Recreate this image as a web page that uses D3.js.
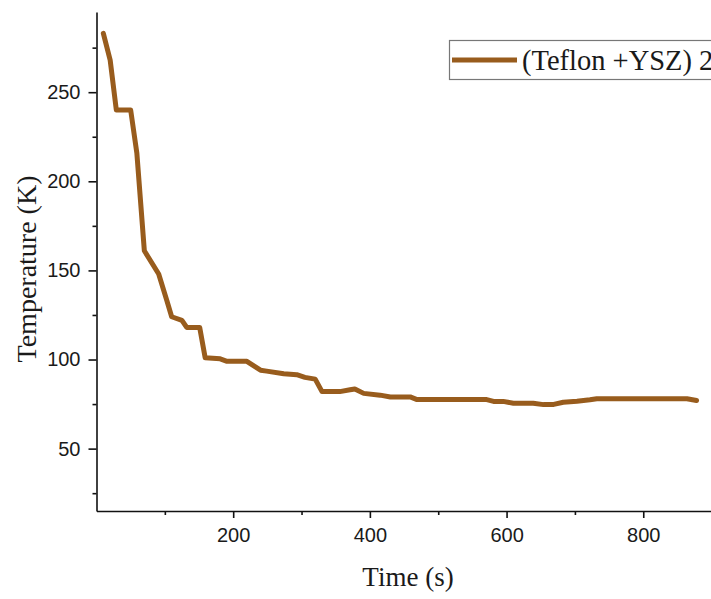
<!DOCTYPE html>
<html>
<head>
<meta charset="utf-8">
<script src="https://cdn.jsdelivr.net/npm/d3@7"></script>
<style>
  body { margin: 0; background: #fff; }
  svg { display: block; }
</style>
</head>
<body>
<div id="chart"></div>
<script>
const WIDTH = 711
const HEIGHT = 599

// values
const time = [10, 20, 29, 50, 59, 70, 91, 103, 110, 125, 132, 151, 159, 181, 191, 220, 240, 249, 274, 293, 305, 320, 330, 356, 371, 378, 391, 415, 430, 459, 469, 571, 581, 595, 610, 639, 654, 669, 683, 703, 722, 732, 864, 878]
const temp = [283, 268, 240, 240, 216, 161, 148, 133, 124, 122, 118, 118, 101, 100.4, 99, 99, 94, 93.5, 92, 91.5, 90, 89, 82, 82, 83, 83.5, 81, 80, 79, 79, 77.5, 77.5, 76.5, 76.5, 75.5, 75.5, 74.7, 74.8, 76, 76.6, 77.4, 78, 78, 77]
const xMajor = [200, 400, 600, 800]
const xMinor = [100, 300, 500, 700]
const yMajor = [50, 100, 150, 200, 250]
const yMinor = [25, 75, 125, 175, 225, 275]
const seriesName = '(Teflon +YSZ) 2'

const COLOR = '#985c1d'
const SANS = '"Liberation Sans", Arial, sans-serif'
const SERIF = '"Liberation Serif", "Times New Roman", serif'

const svg = d3.select('#chart')
  .append('svg')
  .attr('width', WIDTH)
  .attr('height', HEIGHT)

const x = d3.scaleLinear().domain([0, 900]).range([96.5, 711.6])
const y = d3.scaleLinear().domain([15, 295]).range([511, 12])

// minor ticks first, no labels
svg.append('g')
  .attr('transform', 'translate(0,511)')
  .call(d3.axisBottom(x).tickValues(xMinor).tickSize(4).tickFormat(''))
  .call(g => g.select('.domain').remove())

svg.append('g')
  .attr('transform', 'translate(96.5,0)')
  .call(d3.axisLeft(y).tickValues(yMinor).tickSize(4).tickFormat(''))
  .call(g => g.select('.domain').remove())

svg.append('g')
  .attr('transform', 'translate(0,511)')
  .call(d3.axisBottom(x).tickValues(xMajor).tickSize(7).tickPadding(10).tickSizeOuter(0))

svg.append('g')
  .attr('transform', 'translate(96.5,0)')
  .call(d3.axisLeft(y).tickValues(yMajor).tickSize(8).tickPadding(8).tickSizeOuter(0))

svg.selectAll('.tick line').attr('stroke', '#111').attr('stroke-width', 1.6)
svg.selectAll('.domain').attr('stroke', '#111').attr('stroke-width', 1.6)
svg.selectAll('.tick text')
  .attr('font-family', SANS)
  .attr('font-size', 20)
  .attr('fill', '#1a1a1a')

// the line
const line = d3.line()
  .x((d, i) => x(time[i]))
  .y(d => y(d))

svg.append('path')
  .datum(temp)
  .attr('d', line)
  .attr('fill', 'none')
  .attr('stroke', COLOR)
  .attr('stroke-width', 5)
  .attr('stroke-linejoin', 'round')
  .attr('stroke-linecap', 'round')

// axis titles
svg.append('text')
  .attr('x', 408)
  .attr('y', 586)
  .attr('text-anchor', 'middle')
  .attr('font-family', SERIF)
  .attr('font-size', 27)
  .attr('fill', '#1a1a1a')
  .text('Time (s)')

svg.append('text')
  .attr('transform', 'translate(36,269) rotate(-90)')
  .attr('text-anchor', 'middle')
  .attr('font-family', SERIF)
  .attr('font-size', 28)
  .attr('fill', '#1a1a1a')
  .text('Temperature (K)')

// legend, runs off the right edge like the original
svg.append('rect')
  .attr('x', 449.5)
  .attr('y', 40.5)
  .attr('width', 320)
  .attr('height', 39)
  .attr('fill', '#fff')
  .attr('stroke', '#777')
  .attr('stroke-width', 1.2)

svg.append('line')
  .attr('x1', 452)
  .attr('x2', 517)
  .attr('y1', 60)
  .attr('y2', 60)
  .attr('stroke', COLOR)
  .attr('stroke-width', 5)

svg.append('text')
  .attr('x', 522)
  .attr('y', 70)
  .attr('font-family', SERIF)
  .attr('font-size', 28.5)
  .attr('fill', '#1a1a1a')
  .text(seriesName)
</script>
</body>
</html>
